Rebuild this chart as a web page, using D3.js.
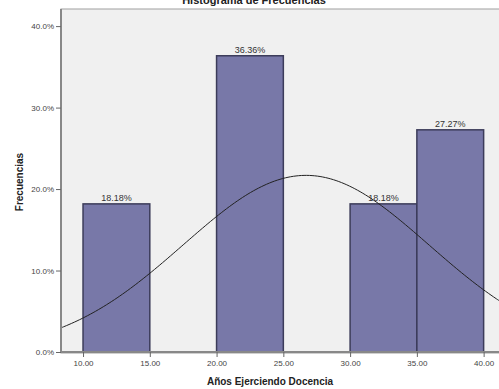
<!DOCTYPE html>
<html>
<head>
<meta charset="utf-8">
<script src="https://cdn.jsdelivr.net/npm/d3@7"></script>
<style>
  body { margin: 0; background: #fff; }
  svg text { font-family: Arial, "Liberation Sans", sans-serif; }
</style>
</head>
<body>
<svg id="chart"></svg>
<script>
// histogram bins (years) and their percentage of cases
const binStarts = [10, 20, 30, 35];
const binWidth = 5;
const binPercent = [18.18, 36.36, 18.18, 27.27];
const binLabels = ['18.18%', '36.36%', '18.18%', '27.27%'];
const xTicks = [10, 15, 20, 25, 30, 35, 40];
const yTicks = [0, 10, 20, 30, 40];
// fitted normal curve parameters
const curveMean = 26.7;
const curveSd = 9.2;

const width = 499, height = 389;
const margin = {top: 9, right: -2, bottom: 36, left: 61};

const svg = d3.select('#chart')
    .attr('width', width)
    .attr('height', height);

const innerW = width - margin.left - margin.right;
const innerH = height - margin.top - margin.bottom;

const xScale = d3.scaleLinear()
    .domain([8.35, 41.3])
    .range([0, innerW]);

const yScale = d3.scaleLinear()
    .domain([0, 42.1])
    .range([innerH - 1, 0]);

const chart = svg.append('g')
    .attr('transform', `translate(${margin.left},${margin.top})`);

// plot background
chart.append('rect')
    .attr('width', innerW)
    .attr('height', innerH)
    .attr('fill', '#f0f0f0')
    .attr('stroke', '#a0a0a0')
    .attr('stroke-width', 1);

// bars
chart.selectAll('.bar')
    .data(binStarts)
  .join('rect')
    .attr('class', 'bar')
    .attr('x', d => xScale(d))
    .attr('width', d => xScale(d + binWidth) - xScale(d))
    .attr('y', (d, i) => yScale(binPercent[i]))
    .attr('height', (d, i) => yScale(0) - yScale(binPercent[i]))
    .attr('fill', '#7878a8')
    .attr('stroke', '#3c3c5a')
    .attr('stroke-width', 1.5);

// bar labels
chart.selectAll('.bar-label')
    .data(binStarts)
  .join('text')
    .attr('class', 'bar-label')
    .attr('x', d => xScale(d + binWidth / 2))
    .attr('y', (d, i) => yScale(binPercent[i]) - 3)
    .attr('text-anchor', 'middle')
    .attr('font-size', 9)
    .attr('fill', '#333')
    .text((d, i) => binLabels[i]);

// normal curve
const pdfScale = 100 * binWidth / (curveSd * Math.sqrt(2 * Math.PI));
const curveX = d3.range(xScale.domain()[0], xScale.domain()[1] + 0.01, 0.2);
const line = d3.line()
    .x(d => xScale(d))
    .y(d => yScale(pdfScale * Math.exp(-0.5 * ((d - curveMean) / curveSd) ** 2)))
    .curve(d3.curveBasis);

chart.append('path')
    .datum(curveX)
    .attr('d', line)
    .attr('fill', 'none')
    .attr('stroke', '#222')
    .attr('stroke-width', 1);

// axes
const xAxis = d3.axisBottom(xScale)
    .tickValues(xTicks)
    .tickSize(5)
    .tickSizeOuter(0)
    .tickPadding(3)
    .tickFormat(d3.format('.2f'));

const yAxis = d3.axisLeft(yScale)
    .tickValues(yTicks)
    .tickSize(5)
    .tickSizeOuter(0)
    .tickPadding(2)
    .tickFormat(d => d.toFixed(1) + '%');

const xAxisG = chart.append('g')
    .attr('transform', `translate(0,${innerH - 1})`)
    .call(xAxis);

const yAxisG = chart.append('g')
    .call(yAxis);

[xAxisG, yAxisG].forEach(g => {
  g.select('.domain').attr('stroke', '#888').attr('stroke-width', 2);
  g.selectAll('.tick line').attr('stroke', '#666');
  g.selectAll('.tick text').attr('font-size', 8).attr('fill', '#444')
      .attr('font-family', 'Arial, "Liberation Sans", sans-serif');
});
yAxisG.select('.domain').attr('d', `M0,0V${innerH - 1}`);
xAxisG.select('.domain').attr('d', `M0,0H${innerW}`);

// titles
svg.append('text')
    .attr('x', 254)
    .attr('y', 4)
    .attr('text-anchor', 'middle')
    .attr('font-size', 11)
    .attr('font-weight', 'bold')
    .attr('fill', '#222')
    .text('Histograma de Frecuencias');

svg.append('text')
    .attr('x', 270)
    .attr('y', 385)
    .attr('text-anchor', 'middle')
    .attr('font-size', 10)
    .attr('font-weight', 'bold')
    .attr('fill', '#222')
    .text('Años Ejerciendo Docencia');

svg.append('text')
    .attr('transform', 'translate(23,182) rotate(-90)')
    .attr('text-anchor', 'middle')
    .attr('font-size', 10)
    .attr('font-weight', 'bold')
    .attr('fill', '#222')
    .text('Frecuencias');
</script>
</body>
</html>
